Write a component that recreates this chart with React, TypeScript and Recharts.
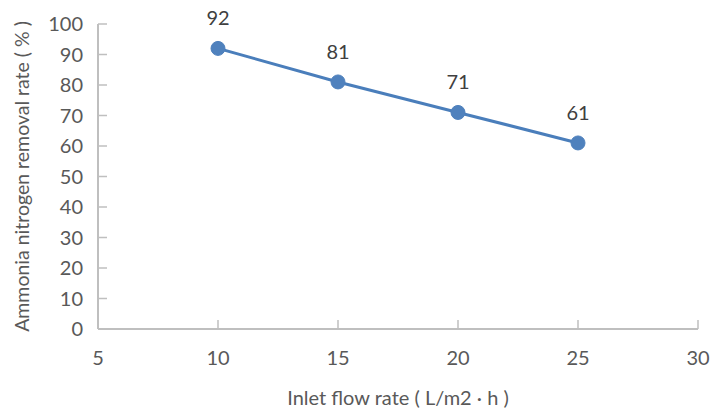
import React from "react";
import { LineChart, Line, XAxis, YAxis, LabelList } from "recharts";

const flowRates = [10, 15, 20, 25];
const removalRates = [92, 81, 71, 61];
const xTicks = [5, 10, 15, 20, 25, 30];
const yTicks = [0, 10, 20, 30, 40, 50, 60, 70, 80, 90, 100];

const data = flowRates.map((x, i) => ({ x, y: removalRates[i] }));

const FONT = "Lato, 'Open Sans', sans-serif";
const AXIS = "#bfbfbf";
const TEXT = "#595959";
const BLUE = "#4a7ebb";

const XTick = (props: any) => {
  const { x, y, payload } = props;
  return (
    <g>
      <line x1={x} x2={x} y1={y} y2={y - 9} stroke={AXIS} strokeWidth={1.5} />
      <text x={x} y={y + 36} textAnchor="middle" fill={TEXT} fontSize={20} fontFamily={FONT}>
        {payload.value}
      </text>
    </g>
  );
};

const YTick = (props: any) => {
  const { x, y, payload } = props;
  return (
    <g>
      <line x1={x} x2={x + 9} y1={y} y2={y} stroke={AXIS} strokeWidth={1.5} />
      <text x={x - 15} y={y + 7} textAnchor="end" fill={TEXT} fontSize={20} fontFamily={FONT}>
        {payload.value}
      </text>
    </g>
  );
};

export default function App() {
  return (
    <div style={{ position: "absolute", left: 0, top: 0, width: 716, height: 410, background: "#fff" }}>
      <LineChart
        width={716}
        height={410}
        data={data}
        margin={{ top: 24, right: 18, bottom: 0, left: 0 }}
      >
        <XAxis
          dataKey="x"
          type="number"
          domain={[5, 30]}
          ticks={xTicks}
          interval={0}
          height={81}
          tickSize={0}
          tickMargin={0}
          tickLine={false}
          stroke={AXIS}
          strokeWidth={2}
          tick={<XTick />}
          label={{
            value: "Inlet flow rate ( L/m2 · h )",
            position: "insideBottom",
            offset: 5,
            fill: TEXT,
            fontSize: 20,
            fontFamily: FONT,
          }}
        />
        <YAxis
          type="number"
          domain={[0, 100]}
          ticks={yTicks}
          interval={0}
          width={98}
          tickSize={0}
          tickMargin={0}
          tickLine={false}
          stroke={AXIS}
          strokeWidth={2}
          tick={<YTick />}
          label={{
            value: "Ammonia nitrogen removal rate ( % )",
            angle: -90,
            position: "insideLeft",
            offset: 22,
            style: { textAnchor: "middle" },
            fill: TEXT,
            fontSize: 19.5,
            fontFamily: FONT,
          }}
        />
        <Line
          dataKey="y"
          stroke={BLUE}
          strokeWidth={3}
          dot={{ r: 7, fill: "#4f81bd", stroke: "#4f81bd", strokeWidth: 1 }}
          isAnimationActive={false}
        >
          <LabelList
            dataKey="y"
            position="top"
            offset={23}
            fill="#404040"
            fontSize={20}
            fontFamily={FONT}
          />
        </Line>
      </LineChart>
    </div>
  );
}
